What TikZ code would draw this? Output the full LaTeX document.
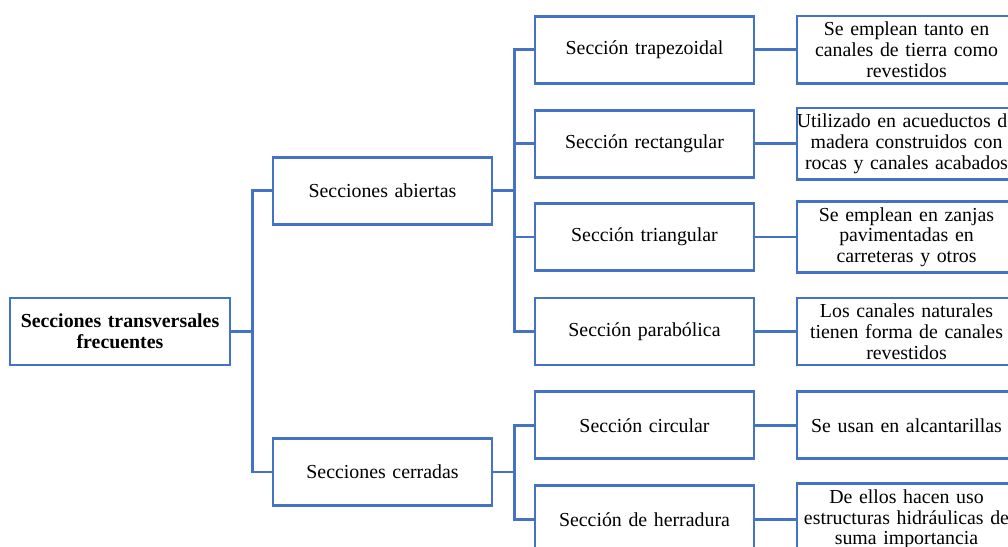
\documentclass[tikz,border=0pt]{standalone}
\usepackage{fontspec}
\setmainfont{Liberation Serif}
\definecolor{azulcaja}{HTML}{4472C4}

\begin{document}
\begin{tikzpicture}[x=0.02cm, y=-0.02cm,
  caja/.style={draw=azulcaja, line width=1.5pt, text width=4.38cm, inner xsep=0pt,
    minimum height=1.34cm, align=center, font=\fontsize{11.3}{11.8}\selectfont},
  enlace/.style={draw=azulcaja, line width=1.5pt}]
  \useasboundingbox (0,0) rectangle (1008,547);
  \clip (0,0) rectangle (1008,547);
  % raiz y dos ramas
  \node[caja, text width=4.4cm, font=\fontsize{11.3}{11.8}\selectfont\bfseries] (raiz) at (120,331.5) {Secciones transversales\\frecuentes};
  \node[caja] (abiertas) at (382.5,190.7) {Secciones abiertas};
  \node[caja] (cerradas) at (382.5,472) {Secciones cerradas};
  % tipos de seccion
  \node[caja] (trap) at (644.5,49.7) {Sección trapezoidal};
  \node[caja] (rect) at (644.5,143.7) {Sección rectangular};
  \node[caja] (tria) at (644.5,237) {Sección triangular};
  \node[caja] (para) at (644.5,331.5) {Sección parabólica};
  \node[caja] (circ) at (644.5,425.3) {Sección circular};
  \node[caja] (herr) at (644.5,519.3) {Sección de herradura};
  % descripciones
  \node[caja] (trapd) at (906.5,49.7) {Se emplean tanto en\\canales de tierra como\\revestidos};
  \node[caja] (rectd) at (906.5,143.7) {\makebox[\linewidth]{Utilizado en acueductos de}\\madera construidos con\\rocas y canales acabados};
  \node[caja] (triad) at (906.5,237) {Se emplean en zanjas\\pavimentadas en\\carreteras y otros};
  \node[caja] (parad) at (906.5,331.5) {Los canales naturales\\tienen forma de canales\\revestidos};
  \node[caja] (circd) at (906.5,425.3) {Se usan en alcantarillas};
  \node[caja] (herrd) at (906.5,519.3) {De ellos hacen uso\\estructuras hidráulicas de\\suma importancia};
  % conectores
  \draw[enlace] (raiz.east) -- ++(21,0) |- (abiertas.west);
  \draw[enlace] (raiz.east) -- ++(21,0) |- (cerradas.west);
  \draw[enlace] (abiertas.east) -- ++(21,0) |- (trap.west);
  \draw[enlace] (abiertas.east) -- ++(21,0) |- (rect.west);
  \draw[enlace] (abiertas.east) -- ++(21,0) |- (tria.west);
  \draw[enlace] (abiertas.east) -- ++(21,0) |- (para.west);
  \draw[enlace] (cerradas.east) -- ++(21,0) |- (circ.west);
  \draw[enlace] (cerradas.east) -- ++(21,0) |- (herr.west);
  \draw[enlace] (trap) -- (trapd);
  \draw[enlace] (rect) -- (rectd);
  \draw[enlace] (tria) -- (triad);
  \draw[enlace] (para) -- (parad);
  \draw[enlace] (circ) -- (circd);
  \draw[enlace] (herr) -- (herrd);
\end{tikzpicture}
\end{document}
